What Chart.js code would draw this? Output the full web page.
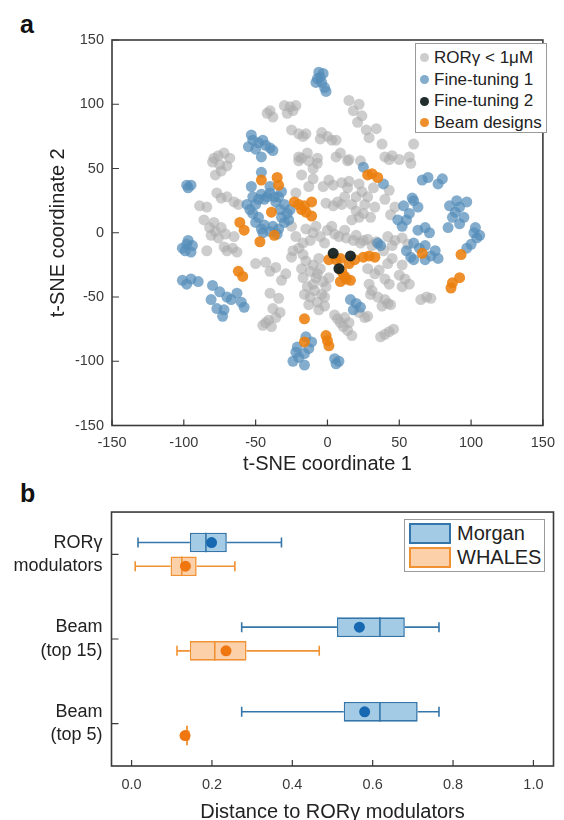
<!DOCTYPE html>
<html>
<head>
<meta charset="utf-8">
<script src="https://cdn.jsdelivr.net/npm/chart.js@4.4.1/dist/chart.umd.min.js"></script>
<style>
  html, body { margin:0; padding:0; background:#fff; width:564px; height:820px; overflow:hidden;
    font-family:"Liberation Sans", Arial, sans-serif; }
  #wrapA { position:absolute; left:0; top:0; width:564px; height:490px; }
  #wrapB { position:absolute; left:0; top:480px; width:564px; height:360px; }
  .panel { position:absolute; font-weight:bold; font-size:25px; line-height:25px; color:#111; }
  .legend { position:absolute; box-sizing:border-box; border:1px solid #9a9a9a; background:#fff; color:#222; }
  #legA { left:415px; top:43px; width:132px; height:90px; padding-top:3px; font-size:17px; }
  #legA .row { height:21.7px; line-height:21.7px; display:flex; align-items:center; white-space:nowrap; }
  #legA .dot { width:9px; height:9px; border-radius:50%; margin-left:4px; margin-right:5px; flex:none; }
  #legB { left:404px; top:519px; width:141px; height:53px; font-size:20px; }
  #legB .row { position:absolute; left:4px; height:21px; display:flex; align-items:center; white-space:nowrap; }
  #legB .sw { box-sizing:border-box; width:42px; height:21px; border:2px solid; margin-right:6px; flex:none; }
</style>
</head>
<body>
<div class="panel" style="left:20px; top:12px;">a</div>
<div class="panel" style="left:20px; top:481px;">b</div>
<div id="wrapA"><canvas id="chartA" width="564" height="490"></canvas></div>
<div id="wrapB"><canvas id="chartB" width="564" height="360"></canvas></div>
<div class="legend" id="legA"></div>
<div class="legend" id="legB"></div>
<script>
// ---------------- Panel a data (t-SNE coordinates) ----------------
const tsneTicks = [-150, -100, -50, 0, 50, 100, 150];

const rorGammaPoints = [
  [-42,93],[-38,90],[-40,95],[-30,99],[-26,98],[-24,95],[-28,93],[-22,99],[-25,80],[-20,77],[-17,75],
  [15,103],[22,100],[18,95],[24,91],[21,86],[27,80],[29,74],[34,81],[38,69],[60,69],
  [-15,77],[-5,73],[6,72],[0,75],[-4,78],[3,72],
  [-18,58],[-13,56],[-7,58],[-14,62],[-7,54],[6,59],[14,56],[9,62],[15,57],[-10,50],[-20,56],
  [40,59],[43,57],[50,57],[57,59],[58,54],[45,60],[-20,59],[23,56],
  [-80,55],[-76,60],[-72,62],[-68,58],[-70,52],[-74,48],[-78,45],[-79,58],[-75,53],
  [-77,31],[-70,28],[-65,24],[-74,27],[-62,22],[-84,20],[-89,21],
  [-79,8],[-82,4],[-78,1],[-74,4],[-71,-1],[-76,-4],[-81,-2],[-66,-12],[-63,-15],[-70,-14],[-84,-14],
  [-86,10],[-65,-3],[-72,-11],
  [-18,45],[-13,36],[-22,31],[-10,42],[1,41],[10,39],[-3,36],[4,37],
  [15,40],[22,38],[32,35],[14,35],[20,28],[26,22],[10,22],[20,17],[30,12],[17,10],[28,28],[24,32],[12,28],[17,22],[25,15],[33,20],[22,12],
  [43,33],[40,26],[47,20],[44,14],
  [-1,23],[4,21],[7,24],[-25,5],[-22,-3],
  [-15,3],[-10,0],[-5,-3],[0,2],[5,-1],[-12,-6],[-2,-8],[-8,5],[-17,-8],[3,5],
  [-20,-12],[-17,-17],[-24,-14],
  [13,-4],[18,-6],[23,-8],[28,-5],[31,-10],[20,-2],[8,-3],[25,-6],[34,-7],[12,2],
  [42,-3],[47,-6],[52,-4],[56,-9],[45,-10],
  [39,-14],[45,-20],[52,-25],[42,-24],
  [28,-28],[36,-29],
  [-15,-22],[-10,-25],[-5,-28],[-12,-30],[-17,-35],[-8,-35],[-3,-38],[-14,-42],[-9,-45],[-4,-48],[-12,-50],[-7,-54],[-2,-57],[-16,-48],[-1,-42],[-6,-20],[-10,-40],[-6,-60],
  [-18,-28],[-7,-32],[-2,-50],[-13,-56],[1,-35],
  [-50,-24],[-43,-23],[-36,-27],[-29,-32],[-32,-37],[-25,-19],[-40,-30],
  [-40,-47],[-34,-51],[-38,-59],[-33,-62],[-43,-70],[-39,-73],[-45,-72],[-41,-68],[-36,-66],
  [29,-40],[33,-32],[40,-36],[43,-40],[31,-45],[50,-33],[54,-36],[57,-40],[52,-42],
  [30,-48],[35,-50],[40,-52],[44,-56],[38,-57],[42,-55],
  [65,-52],[69,-50],[72,-51],
  [5,-64],[9,-70],[14,-76],[17,-80],[7,-67],[11,-73],[12,-66],[15,-70],[22,-62],[26,-66],
  [37,-81],[40,-79],[43,-77],[46,-75],[28,-65]
];

const fineTuning1Points = [
  [-6,125],[-3,124],[-7,120],[-4,117],[-2,113],[-1,110],[-8,117],[-5,121],
  [-53,76],[-45,72],[-40,66],[-55,67],[-50,65],[-46,59],[-38,64],[-48,70],[-43,68],[-52,72],
  [-53,36],[-46,47],[-40,36],[25,51],
  [-98,37],[-95,37],[-97,35],
  [-46,30],[-40,31],[-34,28],[-30,22],[-28,15],[-30,8],[-34,3],[-40,1],[-46,3],[-50,8],[-52,15],[-50,22],
  [-44,26],[-36,24],[-32,12],[-44,6],[-48,12],[-38,5],[-42,28],[-48,26],[-33,18],[-37,28],[-54,18],[-27,10],
  [-56,22],[-26,18],[-32,32],[-52,28],[-45,0],[-35,-1],
  [-99,-14],[-94,-10],[-97,-6],[-101,-12],[-95,-15],[-98,-9],
  [-101,-37],[-95,-36],[-90,-38],[-98,-40],
  [-80,-41],[-75,-46],[-81,-52],[-77,-59],[-73,-65],[-67,-52],[-63,-47],[-60,-54],[-70,-50],[-58,-58],[-72,-60],
  [-15,-81],[-21,-89],[-16,-94],[-24,-100],[-16,-103],[-11,-85],[-20,-97],[-13,-90],[-22,-93],
  [5,-98],[8,-100],[6,-102],
  [16,-52],[20,-55],[23,-58],[18,-60],
  [37,-10],[35,-8],
  [39,38],
  [53,21],[59,27],[55,10],[68,4],[63,2],[71,0],[49,10],[57,15],[63,20],[60,25],[52,5],
  [66,41],[70,43],[80,42],[77,38],
  [85,21],[92,20],[97,24],[87,12],[92,7],[84,4],[89,16],[95,12],[90,25],
  [102,0],[104,-4],[100,-9],[97,-12],[106,-2],[103,4],
  [55,-14],[60,-8],[68,-10],[75,-14],[77,-20],[68,-21],[60,-21],[58,-19],[64,-12],[72,-18]
];

const fineTuning2Points = [[4,-16],[16,-18],[8,-28]];

const beamDesignPoints = [
  [-46,41],[-35,43],[-34,37],
  [-23,24],[-16,21],[-11,24],[-15,16],[-11,13],[-18,18],[-20,22],
  [-39,16],
  [-61,8],[-58,2],
  [-47,-7],[-37,-2],
  [28,45],[31,46],[35,43],
  [1,-21],[6,-21],[9,-20],[15,-24],[19,-21],[12,-34],[9,-38],[16,-37],[10,-30],[13,-36],
  [25,-19],[29,-18],[33,-19],
  [66,-16],
  [93,-17],
  [87,-39],[92,-35],[86,-43],
  [-62,-30],[-59,-34],
  [-16,-67],
  [-16,-85],
  [-1,-80],[0,-84],[1,-88]
];

// ---------------- Panel b data (box plots) ----------------
const groupLabels = [['RORγ','modulators'], ['Beam','(top 15)'], ['Beam','(top 5)']];
const distanceTicks = [0, 0.2, 0.4, 0.6, 0.8, 1.0];

const morganMin    = [0.016, 0.274, 0.274];
const morganQ1     = [0.145, 0.511, 0.528];
const morganMedian = [0.185, 0.618, 0.618];
const morganQ3     = [0.237, 0.680, 0.712];
const morganMax    = [0.373, 0.765, 0.765];
const morganMean   = [0.199, 0.567, 0.580];

const whalesMin    = [0.009, 0.113, 0.134];
const whalesQ1     = [0.097, 0.145, 0.136];
const whalesMedian = [0.125, 0.207, 0.138];
const whalesQ3     = [0.162, 0.286, 0.140];
const whalesMax    = [0.257, 0.467, 0.142];
const whalesMean   = [0.134, 0.235, 0.133];

// ---------------- Shared styling ----------------
const FONT = 'Liberation Sans';
Chart.defaults.font.family = FONT;
Chart.defaults.color = '#333';

const toXY = pts => pts.map(p => ({x: p[0], y: p[1]}));

// frame + inward tick marks
const framePlugin = {
  id: 'frame',
  afterDraw(chart) {
    const {ctx, chartArea: a, scales} = chart;
    ctx.save();
    ctx.strokeStyle = '#3a3a3a';
    ctx.lineWidth = 1.6;
    ctx.strokeRect(a.left, a.top, a.right - a.left, a.bottom - a.top);
    ctx.lineWidth = 1.2;
    ctx.beginPath();
    const xs = scales.x, ys = scales.y;
    xs.ticks.forEach((t, i) => {
      const px = xs.getPixelForTick(i);
      ctx.moveTo(px, a.bottom); ctx.lineTo(px, a.bottom - 6);
    });
    ys.ticks.forEach((t, i) => {
      const py = ys.getPixelForTick(i);
      ctx.moveTo(a.left, py); ctx.lineTo(a.left + 7, py);
    });
    ctx.stroke();
    ctx.restore();
  }
};

// ---------------- Panel a ----------------
const seriesA = [
  {label:'RORγ < 1μM',    pts: rorGammaPoints,    color:'rgba(172,172,172,0.6)',  order:4},
  {label:'Fine-tuning 1', pts: fineTuning1Points, color:'rgba(84,142,186,0.72)',  order:3},
  {label:'Fine-tuning 2', pts: fineTuning2Points, color:'rgba(22,34,34,0.95)',    order:1},
  {label:'Beam designs',  pts: beamDesignPoints,  color:'rgba(236,128,14,0.88)',  order:2}
];

const chartA = new Chart(document.getElementById('chartA'), {
  type: 'scatter',
  data: { datasets: seriesA.map(s => ({
    label: s.label, data: toXY(s.pts), backgroundColor: s.color, order: s.order,
    pointRadius: 5.5, pointBorderWidth: 0, pointHoverRadius: 5.5 })) },
  options: {
    responsive: false, animation: false,
    layout: { padding: { left: 0, top: 40, right: 11.4, bottom: 0 } },
    plugins: { legend: { display: false }, tooltip: { enabled: false } },
    scales: {
      x: {
        type: 'linear', min: -150, max: 150,
        afterBuildTicks: s => { s.ticks = tsneTicks.map(v => ({value: v})); },
        afterFit: s => { s.height = 64.5; },
        grid: { display: false, drawTicks: false }, border: { display: false },
        ticks: { padding: 9, color: '#3a3a3a', font: { size: 14.5 } },
        title: { display: true, text: 't-SNE coordinate 1', color: '#222',
                 font: { size: 20 }, padding: { top: 0, bottom: 14 } }
      },
      y: {
        type: 'linear', min: -150, max: 150,
        afterBuildTicks: s => { s.ticks = tsneTicks.map(v => ({value: v})); },
        afterFit: s => { s.width = 112; },
        grid: { display: false, drawTicks: false }, border: { display: false },
        ticks: { padding: 8, color: '#3a3a3a', font: { size: 14.5 } },
        title: { display: true, text: 't-SNE coordinate 2', color: '#222',
                 font: { size: 20 }, padding: { top: 46, bottom: 0 } }
      }
    }
  },
  plugins: [framePlugin]
});

// HTML legend for panel a, built from the datasets
document.getElementById('legA').innerHTML = chartA.data.datasets.map(d =>
  `<div class="row"><span class="dot" style="background:${d.backgroundColor}"></span>${d.label}</div>`).join('');

// ---------------- Panel b ----------------
const boxSeries = [
  {label:'Morgan', min: morganMin, q1: morganQ1, med: morganMedian, q3: morganQ3, max: morganMax, mean: morganMean,
   fill:'rgb(163,203,230)', line:'rgb(52,118,170)', dot:'rgb(22,104,176)'},
  {label:'WHALES', min: whalesMin, q1: whalesQ1, med: whalesMedian, q3: whalesQ3, max: whalesMax, mean: whalesMean,
   fill:'rgb(252,208,168)', line:'rgb(240,146,52)', dot:'rgb(240,118,16)'}
];

const boxPlugin = {
  id: 'boxExtras',
  afterDatasetsDraw(chart) {
    const {ctx} = chart;
    const xs = chart.scales.x;
    chart.data.datasets.forEach((ds, di) => {
      const meta = chart.getDatasetMeta(di);
      const s = ds.stats;
      meta.data.forEach((bar, i) => {
        const y = bar.y, h = bar.height;
        const pMin = xs.getPixelForValue(s.min[i]), pQ1 = xs.getPixelForValue(s.q1[i]);
        const pQ3 = xs.getPixelForValue(s.q3[i]), pMax = xs.getPixelForValue(s.max[i]);
        const pMed = xs.getPixelForValue(s.med[i]), pMean = xs.getPixelForValue(s.mean[i]);
        ctx.save();
        ctx.strokeStyle = s.line; ctx.lineWidth = 1.6;
        ctx.beginPath();
        ctx.moveTo(pMin, y); ctx.lineTo(pQ1, y);
        ctx.moveTo(pQ3, y); ctx.lineTo(pMax, y);
        ctx.moveTo(pMin, y - 5); ctx.lineTo(pMin, y + 5);
        ctx.moveTo(pMax, y - 5); ctx.lineTo(pMax, y + 5);
        ctx.moveTo(pMed, y - h / 2); ctx.lineTo(pMed, y + h / 2);
        ctx.stroke();
        ctx.fillStyle = s.dot;
        ctx.beginPath(); ctx.arc(pMean, y, 5.5, 0, Math.PI * 2); ctx.fill();
        ctx.restore();
      });
    });
  }
};

const chartB = new Chart(document.getElementById('chartB'), {
  type: 'bar',
  data: {
    labels: groupLabels,
    datasets: boxSeries.map(s => ({
      label: s.label,
      data: s.q1.map((q, i) => [q, s.q3[i]]),
      backgroundColor: s.fill, borderColor: s.line, borderWidth: 1.6, borderSkipped: false,
      categoryPercentage: 0.56, barPercentage: 0.83,
      stats: s
    }))
  },
  options: {
    indexAxis: 'y',
    responsive: false, animation: false,
    layout: { padding: { left: 0, top: 27, right: 10.5, bottom: 0 } },
    plugins: { legend: { display: false }, tooltip: { enabled: false } },
    scales: {
      x: {
        type: 'linear', min: -0.05, max: 1.05,
        afterBuildTicks: s => { s.ticks = distanceTicks.map(v => ({value: v})); },
        afterFit: s => { s.height = 74; },
        grid: { display: false, drawTicks: false }, border: { display: false },
        ticks: { padding: 10, color: '#3a3a3a', font: { size: 14.5 }, callback: v => Number(v).toFixed(1) },
        title: { display: true, text: 'Distance to RORγ modulators', color: '#222',
                 font: { size: 20 }, padding: { top: 0, bottom: 16 } }
      },
      y: {
        type: 'category', offset: true,
        afterFit: s => { s.width = 111.5; },
        grid: { display: false, drawTicks: false, offset: false }, border: { display: false },
        ticks: { padding: 9, color: '#222', font: { size: 18, lineHeight: 1.28 } }
      }
    }
  },
  plugins: [boxPlugin, framePlugin]
});

// HTML legend for panel b
document.getElementById('legB').innerHTML = chartB.data.datasets.map((d, i) =>
  `<div class="row" style="top:${3 + i * 24}px"><span class="sw" style="background:${d.backgroundColor};border-color:${d.borderColor}"></span>${d.label}</div>`).join('');
</script>
</body>
</html>
